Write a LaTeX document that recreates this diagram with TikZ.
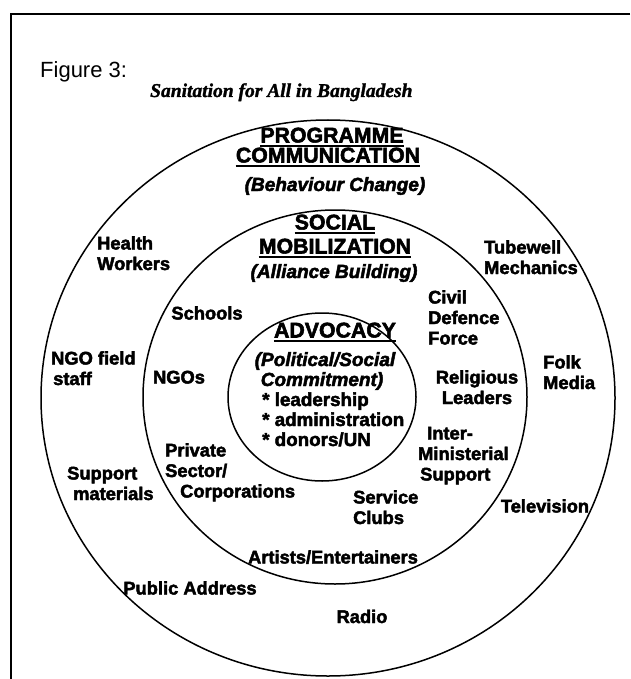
\documentclass[tikz,border=0pt]{standalone}
\usepackage{fontspec}
\setmainfont{Liberation Sans}
% heavy display faces for the diagram labels
\newfontfamily\heavy{Liberation Sans Bold}[FakeBold=2.5]
\newfontfamily\heavyit{Liberation Sans Bold Italic}[FakeBold=2.5]
\newfontfamily\titleserif{Liberation Serif Bold Italic}[FakeBold=1.5]
\begin{document}
\begin{tikzpicture}[x=1pt,y=-1pt,
  ring/.style={line width=1.5pt},
  frameline/.style={line width=2.2pt},
  uline/.style={line width=2.2pt},
  lbl/.style={font=\heavy\fontsize{18.3}{20.5}\selectfont, inner sep=0pt, align=left},
  lblc/.style={lbl, align=center},
  head/.style={font=\heavy\fontsize{21.3}{20}\selectfont, inner sep=0pt, anchor=base},
  sub/.style={font=\heavyit\fontsize{19}{20}\selectfont, inner sep=0pt, anchor=base},
  bullet/.style={font=\heavy\fontsize{18.8}{20}\selectfont, inner sep=0pt, anchor=base west}
]
\useasboundingbox (0,0) rectangle (630,679);

% frame (open on the right and at the bottom)
\coordinate (ftl) at (11,14);
\coordinate (ftr) at (630,14);
\coordinate (fbl) at (11,679);
\draw[frameline] (ftr) -- (ftl) -- (fbl);

% title
\node[font=\fontsize{22}{24}\selectfont, inner sep=0pt, anchor=base west] (fig) at (40,78) {Figure 3:};
\node[font=\titleserif\fontsize{19.5}{21}\selectfont, inner sep=0pt, anchor=base west] (title) at (150,97) {Sanitation for All in Bangladesh};

% the three rings
\draw[ring] (328,398) ellipse [x radius=287pt, y radius=278pt];
\draw[ring] (335,397) ellipse [x radius=192pt, y radius=187pt];
\draw[ring] (322,397) ellipse [x radius=94pt, y radius=84pt];

% outer ring heading
\node[head] (prog) at (332,142.5) {PROGRAMME};
\node[head] (comm) at (328,162.5) {COMMUNICATION};
\node[sub] (beh) at (335,191) {(Behaviour Change)};
% middle ring heading
\node[head] (soc) at (335,229.5) {SOCIAL};
\node[head] (mob) at (335,253.5) {MOBILIZATION};
\node[sub] (all) at (334,278) {(Alliance Building)};
% inner ring heading
\node[head] (adv) at (335,337.5) {ADVOCACY};
\node[sub] (pol) at (325,366) {(Political/Social};
\node[sub] (com) at (322,386) {Commitment)};
\node[bullet] (b1) at (262,406) {* leadership};
\node[bullet] (b2) at (262,426) {* administration};
\node[bullet] (b3) at (262,446) {* donors/UN};

\foreach \n in {prog,comm,soc,mob,adv}
  \draw[uline] ([yshift=-3.5pt]\n.base west) -- ([yshift=-3.5pt]\n.base east);

% outer ring: programme communication channels
% (multi-line labels are placed by the baseline of their last line)
\node[lbl, anchor=base west] (hw) at (97,270) {Health\\Workers};
\node[lbl, anchor=base west] (tm) at (484,274) {Tubewell\\Mechanics};
\node[lbl, anchor=base west] (ngof) at (51,385) {NGO field\\\hspace*{2pt}staff};
\node[lbl, anchor=base west] (folk) at (543,389) {Folk\\Media};
\node[lbl, anchor=base west] (supm) at (67,500) {Support\\\hspace*{6pt}materials};
\node[lbl, anchor=base] (tv) at (545,512.5) {Television};
\node[lbl, anchor=base] (pa) at (190,594.5) {Public Address};
\node[lbl, anchor=base] (radio) at (362,623) {Radio};

% middle ring: alliance partners
\node[lbl, anchor=base] (sch) at (207,319.5) {Schools};
\node[lbl, anchor=base west] (cdf) at (428,344.5) {Civil\\Defence\\Force};
\node[lbl, anchor=base] (ngos) at (179,383.5) {NGOs};
\node[lblc, anchor=base] (rel) at (477,404) {Religious\\Leaders};
\node[lbl, anchor=base west] (priv) at (165,497.5) {Private\\Sector/\\\hspace*{15pt}Corporations};
\node[lbl, anchor=base west] (ims) at (418,480.5) {\hspace*{9pt}Inter-\\Ministerial\\\hspace*{2pt}Support};
\node[lbl, anchor=base west] (svc) at (353,524) {Service\\Clubs};
\node[lbl, anchor=base] (art) at (333,563.5) {Artists/Entertainers};
\end{tikzpicture}
\end{document}
